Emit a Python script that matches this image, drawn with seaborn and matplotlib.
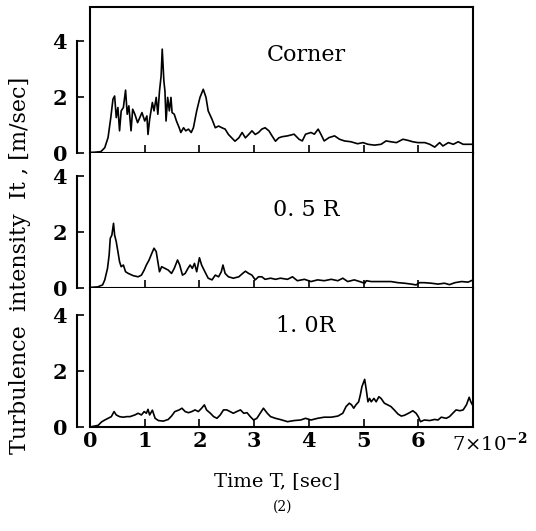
import matplotlib
matplotlib.use("Agg")
import matplotlib.pyplot as plt
import matplotlib.transforms as mtransforms
import pandas as pd
import seaborn as sns

# Turbulence intensity records (time in units of 1e-2 s, intensity in m/s)
corner_t = [0.0, 0.1, 0.2, 0.27, 0.33, 0.38, 0.42, 0.45, 0.48, 0.51, 0.54, 0.57,
            0.61, 0.65, 0.68, 0.71, 0.75, 0.78, 0.82, 0.87, 0.91, 0.95, 1.0, 1.04,
            1.06, 1.09, 1.14, 1.17, 1.21, 1.24, 1.27, 1.3, 1.32, 1.35, 1.37, 1.39,
            1.42, 1.45, 1.48, 1.5, 1.54, 1.58, 1.63, 1.66, 1.71, 1.75, 1.8, 1.85,
            1.89, 1.95, 2.01, 2.07, 2.12, 2.16, 2.23, 2.29, 2.35, 2.41, 2.47, 2.53,
            2.59, 2.65, 2.72, 2.78, 2.84, 2.9, 2.96, 3.02, 3.08, 3.14, 3.2, 3.27,
            3.33, 3.39, 3.45, 3.51, 3.61, 3.73, 3.82, 3.88, 3.94, 4.04, 4.1, 4.17,
            4.22, 4.28, 4.37, 4.47, 4.56, 4.65, 4.77, 4.89, 4.99, 5.08, 5.2, 5.32,
            5.41, 5.5, 5.6, 5.72, 5.81, 5.9, 5.99, 6.12, 6.21, 6.3, 6.39, 6.45,
            6.55, 6.64, 6.73, 6.82, 6.91, 6.98]
corner_it = [0.02, 0.03, 0.05, 0.19, 0.55, 1.26, 1.92, 2.03, 1.26, 1.62, 0.79, 1.5,
             1.62, 2.24, 1.38, 1.68, 0.79, 1.56, 1.38, 1.08, 1.26, 1.44, 1.14, 1.32,
             0.66, 1.2, 1.8, 1.5, 1.98, 1.38, 2.2, 2.75, 3.7, 2.57, 2.2, 1.14,
             1.98, 1.5, 1.98, 1.44, 1.38, 1.14, 0.9, 0.73, 0.9, 0.79, 0.85, 0.73,
             0.9, 1.5, 1.98, 2.27, 1.98, 1.5, 1.2, 0.9, 0.96, 0.9, 0.85, 0.66,
             0.54, 0.42, 0.54, 0.73, 0.54, 0.66, 0.79, 0.66, 0.73, 0.85, 0.9, 0.79,
             0.6, 0.42, 0.54, 0.58, 0.61, 0.67, 0.49, 0.43, 0.67, 0.73, 0.67, 0.85,
             0.67, 0.43, 0.55, 0.61, 0.49, 0.43, 0.4, 0.33, 0.37, 0.31, 0.28, 0.31,
             0.43, 0.4, 0.37, 0.49, 0.45, 0.4, 0.37, 0.37, 0.31, 0.21, 0.37, 0.25,
             0.37, 0.31, 0.4, 0.31, 0.31, 0.31]

half_r_t = [0.0, 0.14, 0.23, 0.27, 0.32, 0.35, 0.37, 0.4, 0.43, 0.45, 0.48, 0.51,
            0.54, 0.57, 0.61, 0.65, 0.7, 0.79, 0.88, 0.94, 0.99, 1.03, 1.08, 1.13,
            1.17, 1.21, 1.24, 1.27, 1.31, 1.37, 1.43, 1.49, 1.54, 1.6, 1.64, 1.69,
            1.74, 1.79, 1.83, 1.87, 1.91, 1.95, 2.0, 2.04, 2.1, 2.16, 2.23, 2.29,
            2.35, 2.4, 2.43, 2.47, 2.53, 2.62, 2.72, 2.79, 2.84, 2.9, 2.96, 3.02,
            3.08, 3.14, 3.2, 3.3, 3.39, 3.48, 3.61, 3.7, 3.79, 3.92, 4.04, 4.16,
            4.28, 4.41, 4.53, 4.62, 4.71, 4.83, 4.93, 5.02, 5.05, 5.14, 5.26, 5.38,
            5.5, 5.63, 5.75, 5.87, 5.96, 6.02, 6.11, 6.24, 6.36, 6.48, 6.57, 6.67,
            6.79, 6.91, 6.98]
half_r_it = [0.02, 0.04, 0.11, 0.29, 0.7, 1.18, 1.77, 1.89, 2.31, 1.89, 1.65, 1.3,
             0.94, 0.76, 0.82, 0.58, 0.52, 0.44, 0.4, 0.46, 0.64, 0.82, 1.0, 1.24,
             1.42, 1.3, 0.94, 0.58, 0.76, 0.7, 0.64, 0.52, 0.7, 1.0, 0.82, 0.46,
             0.52, 0.7, 0.82, 0.7, 0.88, 0.58, 1.08, 0.82, 0.58, 0.35, 0.29, 0.46,
             0.4, 0.58, 0.82, 0.52, 0.4, 0.35, 0.4, 0.52, 0.6, 0.52, 0.46, 0.29,
             0.4, 0.4, 0.31, 0.35, 0.31, 0.35, 0.31, 0.4, 0.26, 0.31, 0.23, 0.29,
             0.26, 0.31, 0.26, 0.35, 0.23, 0.29, 0.23, 0.17, 0.26, 0.23, 0.23, 0.23,
             0.23, 0.19, 0.17, 0.14, 0.11, 0.19, 0.19, 0.17, 0.14, 0.17, 0.12, 0.19,
             0.23, 0.21, 0.27]

full_r_t = [0.0, 0.15, 0.21, 0.27, 0.33, 0.39, 0.44, 0.48, 0.54, 0.61, 0.67, 0.73,
            0.82, 0.88, 0.94, 0.99, 1.03, 1.06, 1.09, 1.14, 1.19, 1.25, 1.34, 1.43,
            1.49, 1.55, 1.63, 1.68, 1.74, 1.8, 1.86, 1.92, 1.98, 2.04, 2.09, 2.13,
            2.2, 2.26, 2.32, 2.38, 2.44, 2.5, 2.56, 2.62, 2.68, 2.75, 2.81, 2.87,
            2.93, 2.99, 3.05, 3.11, 3.17, 3.24, 3.3, 3.39, 3.49, 3.61, 3.73, 3.85,
            3.94, 4.04, 4.16, 4.28, 4.41, 4.53, 4.62, 4.68, 4.74, 4.78, 4.82, 4.86,
            4.91, 4.94, 4.97, 5.02, 5.05, 5.08, 5.11, 5.14, 5.19, 5.23, 5.28, 5.32,
            5.38, 5.44, 5.5, 5.56, 5.63, 5.69, 5.75, 5.84, 5.9, 5.96, 6.0, 6.04,
            6.11, 6.21, 6.3, 6.36, 6.42, 6.51, 6.57, 6.63, 6.69, 6.76, 6.82, 6.88,
            6.93, 6.96, 6.99]
full_r_it = [0.0, 0.06, 0.18, 0.25, 0.31, 0.37, 0.55, 0.43, 0.37, 0.35, 0.37, 0.37,
             0.43, 0.49, 0.43, 0.55, 0.49, 0.63, 0.43, 0.6, 0.31, 0.23, 0.21, 0.27,
             0.39, 0.55, 0.61, 0.67, 0.55, 0.51, 0.55, 0.61, 0.55, 0.67, 0.79, 0.61,
             0.49, 0.37, 0.31, 0.43, 0.61, 0.61, 0.55, 0.49, 0.55, 0.61, 0.49, 0.51,
             0.37, 0.25, 0.31, 0.49, 0.67, 0.49, 0.37, 0.31, 0.26, 0.19, 0.23, 0.25,
             0.31, 0.25, 0.31, 0.35, 0.35, 0.39, 0.49, 0.73, 0.85, 0.79, 0.67, 0.79,
             0.9, 1.14, 1.44, 1.7, 1.32, 0.9, 1.02, 0.9, 1.02, 0.9, 1.08, 1.02,
             0.85, 0.79, 0.73, 0.61, 0.46, 0.39, 0.42, 0.51, 0.58, 0.49, 0.37, 0.19,
             0.25, 0.23, 0.27, 0.25, 0.35, 0.31, 0.37, 0.49, 0.61, 0.58, 0.61, 0.79,
             1.06, 0.9, 0.79]

panel_names = ["Corner", "0. 5 R", "1. 0R"]
x_ticks = [0, 1, 2, 3, 4, 5, 6, 7]
x_tick_labels = ["0", "1", "2", "3", "4", "5", "6", ""]
x_scale_label = "7×10$^{\\mathbf{-2}}$"
y_ticks = [0, 2, 4]
y_tick_labels = ["0", "2", "4"]
x_label = "Time T, [sec]"
y_label = "Turbulence  intensity  It , [m/sec]"
sub_caption = "(2)"

records = [(corner_t, corner_it), (half_r_t, half_r_it), (full_r_t, full_r_it)]

sns.set_theme(style="white")
plt.rcParams["font.family"] = ["DejaVu Serif"]
plt.rcParams["mathtext.fontset"] = "dejavuserif"

W, H = 536, 531
fig = plt.figure(figsize=(W / 100, H / 100), dpi=100)

# stacked panels sharing a common frame
left_px, right_px, top_px = 90, 473, 7
panel_px = [146, 135, 139]
panel_ymax = [5.2, 4.82, 4.96]
name_y = [3.5, 2.8, 3.6]

axes = []
y_cursor = top_px
for h in panel_px:
    ax = fig.add_axes([left_px / W, 1 - (y_cursor + h) / H,
                       (right_px - left_px) / W, h / H])
    y_cursor += h
    axes.append(ax)

for i, (ax, (t, it)) in enumerate(zip(axes, records)):
    df = pd.DataFrame({"t": t, "it": it})
    sns.lineplot(data=df, x="t", y="it", ax=ax, color="black", linewidth=1.2,
                 estimator=None, sort=False)
    ax.set_xlim(0, 7.0)
    ax.set_ylim(0, panel_ymax[i])
    ax.set_facecolor("white")
    ax.grid(False)

    for side in ("right", "bottom", "top"):
        ax.spines[side].set_color("black")
        ax.spines[side].set_linewidth(1.5)
    ax.spines["top"].set_visible(i == 0)
    ax.spines["left"].set_color("black")
    ax.spines["left"].set_linewidth(1.5)
    ax.spines["left"].set_position(("outward", 9.5))
    ax.spines["left"].set_bounds(0, 4)
    # frame edge at t = 0
    ax.axvline(0, color="black", linewidth=1.5, clip_on=False)

    ax.set_yticks(y_ticks)
    ax.set_yticklabels(y_tick_labels, fontweight="bold")
    ax.set_xticks(x_ticks)
    ax.tick_params(axis="y", which="both", left=True, direction="in", length=5,
                   width=1.2, pad=7, labelsize=15, colors="black")
    ax.tick_params(axis="x", which="both", bottom=True, direction="in", length=6,
                   width=1.2, pad=3, labelsize=15, colors="black")
    if i == len(axes) - 1:
        ax.set_xticklabels(x_tick_labels, fontweight="bold")
        trans = mtransforms.offset_copy(ax.get_xaxis_transform(), fig=fig,
                                        x=-15, y=-3.5, units="points")
        ax.text(7, 0, x_scale_label, transform=trans, ha="left", va="top",
                fontsize=14, color="black")
    else:
        ax.set_xticklabels([])
    ax.set_xlabel("")
    ax.set_ylabel("")
    ax.text(3.95, name_y[i], panel_names[i], ha="center", va="center",
            fontsize=16, color="black")

fig.text(20 / W, 1 - 265 / H, y_label, rotation=90, ha="center", va="center",
         fontsize=16, color="black")
fig.text(277 / W, 1 - 481 / H, x_label, ha="center", va="center",
         fontsize=14, color="black")
fig.text(283 / W, 1 - 507 / H, sub_caption, ha="center", va="center",
         fontsize=10, color="black")

fig.savefig("out.png", dpi=100, facecolor="white")
